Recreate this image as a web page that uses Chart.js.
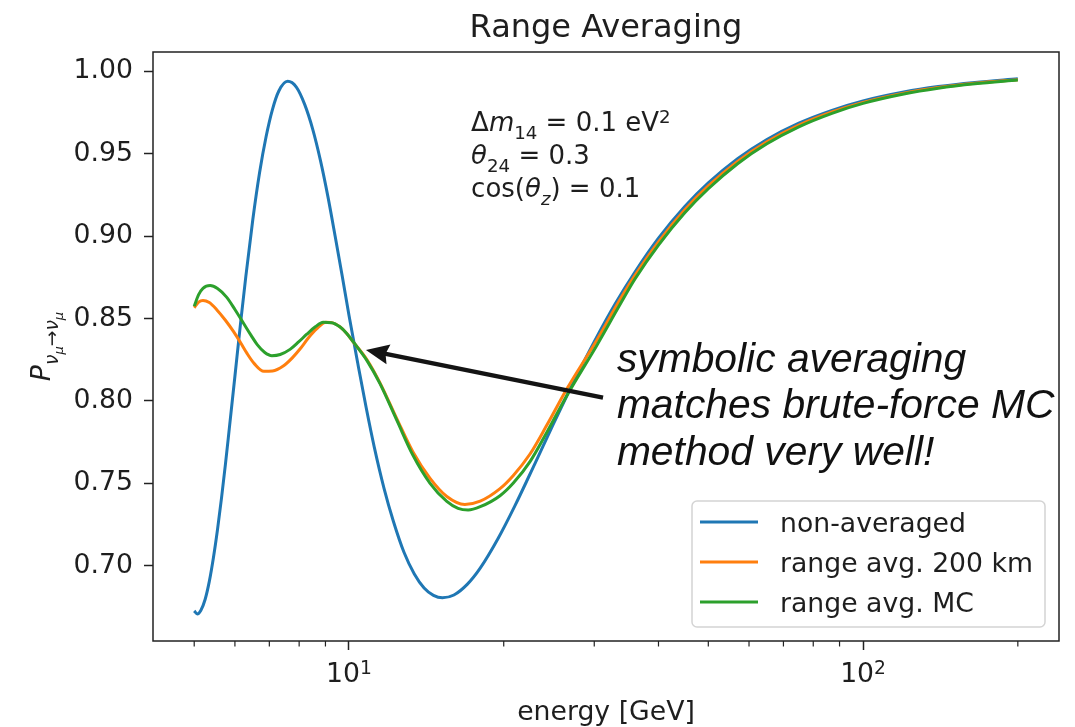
<!DOCTYPE html>
<html>
<head>
<meta charset="utf-8">
<script src="https://cdn.jsdelivr.net/npm/chart.js@4/dist/chart.umd.min.js"></script>
<style>
html,body{margin:0;padding:0;background:#fff;}
canvas{display:block;}
</style>
</head>
<body>
<canvas id="c" width="1075" height="727"></canvas>
<script>
// ---------------- data ----------------
const seriesLabels = ['non-averaged', 'range avg. 200 km', 'range avg. MC'];
const seriesColors = ['#1f77b4', '#ff7f0e', '#2ca02c'];

const nonAvgEnergy = [5.00,5.07,5.15,5.25,5.35,5.45,5.55,5.65,5.75,5.85,6.00,6.15,6.30,6.50,6.70,6.90,7.10,7.30,7.60,7.90,8.20,8.50,8.80,9.10,9.40,9.70,10.0,10.4,10.8,11.2,11.7,12.2,12.8,13.4,14.0,14.6,15.2,16.0,17.0,18.0,19.5,21.0,23.0,25.0,27.5,30.0,33.0,36.0,40.0,45.0,50.0,57.0,65.0,75.0,87.0,100,120,140,165,200];
const nonAvgProb   = [0.6726,0.6707,0.6728,0.6795,0.6905,0.7050,0.7220,0.7410,0.7615,0.7830,0.8150,0.8465,0.8755,0.9100,0.9385,0.9605,0.9770,0.9880,0.9940,0.9905,0.9800,0.9650,0.9460,0.9240,0.9000,0.8760,0.8520,0.8230,0.7960,0.7720,0.7470,0.7270,0.7080,0.6950,0.6865,0.6820,0.6805,0.6822,0.6888,0.6985,0.7165,0.7360,0.7620,0.7862,0.8130,0.8360,0.8593,0.8783,0.8988,0.9180,0.9323,0.9470,0.9587,0.9686,0.9764,0.9821,0.9875,0.9908,0.9933,0.9955];

const avg200Energy = [5.00,5.10,5.20,5.35,5.53,5.75,5.96,6.15,6.33,6.55,6.83,7.10,7.45,7.75,8.03,8.35,8.65,9.02,9.30,9.60,9.90,10.18,10.84,11.49,12.4,13.32,14.38,15.5,16.8,18.0,19.67,20.88,22.5,24.28,26.56,30.38,33.67,36,40,45,50,57,65,75,87,100,120,140,165,200];
const avg200Prob   = [0.8566,0.8600,0.8610,0.8597,0.8554,0.8490,0.8422,0.8355,0.8290,0.8225,0.8180,0.8182,0.8212,0.8260,0.8315,0.8385,0.8437,0.8478,0.8474,0.8450,0.8410,0.8360,0.8250,0.8110,0.7890,0.7690,0.7530,0.7420,0.7372,0.7392,0.7468,0.7548,0.7678,0.7855,0.8075,0.8372,0.8615,0.8762,0.8966,0.9160,0.9305,0.9454,0.9573,0.9674,0.9754,0.9812,0.9868,0.9902,0.9928,0.9950];

const avgMcEnergy = [5.00,5.10,5.20,5.37,5.55,5.78,6.00,6.24,6.45,6.63,6.85,7.08,7.35,7.68,7.98,8.28,8.60,8.91,9.25,9.60,9.90,10.2,10.84,11.49,12.4,13.32,14.38,15.5,16.3,17.05,18.0,19.67,20.88,22.5,24.28,26.56,30.38,33.67,36,40,45,50,57,65,75,87,100,120,140,165,200];
const avgMcProb   = [0.8575,0.8645,0.8683,0.8700,0.8682,0.8630,0.8555,0.8470,0.8398,0.8342,0.8296,0.8275,0.8282,0.8313,0.8358,0.8405,0.8450,0.8477,0.8475,0.8450,0.8410,0.8358,0.8245,0.8105,0.7880,0.7670,0.7500,0.7390,0.7348,0.7338,0.7358,0.7425,0.7502,0.7632,0.7812,0.8035,0.8340,0.8585,0.8740,0.8946,0.9142,0.9288,0.9440,0.9561,0.9664,0.9746,0.9806,0.9863,0.9898,0.9925,0.9948];

const yTickValues = [0.70,0.75,0.80,0.85,0.90,0.95,1.00];
const xMajorTicks = [10, 100];
const xMajorBase = ['10', '10'];
const xMajorExp = ['1', '2'];
const xMinorTicks = [5,6,7,8,9,20,30,40,50,60,70,80,90,200];

const paramLines = [
  [{t:'\u0394'},{t:'m',it:1},{t:'14',sub:1},{t:' = 0.1 eV'},{t:'2',sup:1}],
  [{t:'\u03B8',it:1},{t:'24',sub:1},{t:' = 0.3'}],
  [{t:'cos('},{t:'\u03B8',it:1},{t:'z',it:1,sub:1},{t:') = 0.1'}]
];
const noteLines = ['symbolic averaging', 'matches brute-force MC', 'method very well!'];
const arrowTip = [10.79, 0.831];
const arrowTail = [31.2, 0.802];
const noteAnchor = [33.2, 0.8178];
const paramAnchor = [17.28, 0.9636];

// ---------------- helpers ----------------
const FONT = '"DejaVu Sans", sans-serif';
const TXT = '#1e1e1e';
const BASE = 26.7;
const PBASE = 26;

function richWidth(ctx, segs, size) {
  let w = 0;
  for (const s of segs) {
    const sz = (s.sub || s.sup) ? size * 0.7 : (s.ss ? size * 0.49 : size);
    ctx.font = (s.it ? 'italic ' : '') + sz + 'px ' + FONT;
    w += ctx.measureText(s.t).width;
  }
  return w;
}
function drawRich(ctx, x, y, segs, size) {
  let cx = x;
  for (const s of segs) {
    let sz = size, dy = 0;
    if (s.sub) { sz = size * 0.7; dy = size * 0.31; }
    if (s.sup) { sz = size * 0.7; dy = -size * 0.31; }
    if (s.ss)  { sz = size * 0.49; dy = size * 0.47; }
    ctx.font = (s.it ? 'italic ' : '') + sz + 'px ' + FONT;
    ctx.fillText(s.t, cx, y + dy);
    cx += ctx.measureText(s.t).width;
  }
}

const decor = {
  id: 'decor',
  afterDatasetsDraw(chart) {
    const {ctx, chartArea: a, scales: {x, y}} = chart;
    ctx.save();
    // spines
    ctx.strokeStyle = '#222';
    ctx.lineWidth = 1.5;
    ctx.strokeRect(a.left, a.top, a.right - a.left, a.bottom - a.top);
    // minor x ticks
    ctx.lineWidth = 1.2;
    for (const v of xMinorTicks) {
      const px = x.getPixelForValue(v);
      ctx.beginPath(); ctx.moveTo(px, a.bottom); ctx.lineTo(px, a.bottom + 5.5); ctx.stroke();
    }
    ctx.fillStyle = TXT;
    ctx.textBaseline = 'alphabetic';
    // x major tick labels (10^n)
    xMajorTicks.forEach((v, i) => {
      const segs = [{t: xMajorBase[i]}, {t: xMajorExp[i], sup: 1}];
      const w = richWidth(ctx, segs, BASE);
      drawRich(ctx, x.getPixelForValue(v) - w / 2, a.bottom + 41, segs, BASE);
    });
    // title
    ctx.font = '32px ' + FONT;
    ctx.textAlign = 'center';
    ctx.fillText('Range Averaging', (a.left + a.right) / 2, a.top - 15.5);
    // x label
    ctx.font = BASE + 'px ' + FONT;
    ctx.fillText('energy [GeV]', (a.left + a.right) / 2, 720);
    ctx.textAlign = 'left';
    // y label (rotated)
    const ySegs = [{t:'P',it:1},{t:'\u03BD',it:1,sub:1},{t:'\u03BC',it:1,ss:1},{t:'\u2192',sub:1},{t:'\u03BD',it:1,sub:1},{t:'\u03BC',it:1,ss:1}];
    ctx.save();
    ctx.translate(50, (a.top + a.bottom) / 2);
    ctx.rotate(-Math.PI / 2);
    const yw = richWidth(ctx, ySegs, BASE);
    drawRich(ctx, -yw / 2, 0, ySegs, BASE);
    ctx.restore();
    // parameter text
    const px0 = x.getPixelForValue(paramAnchor[0]);
    const py0 = y.getPixelForValue(paramAnchor[1]);
    paramLines.forEach((segs, i) => drawRich(ctx, px0, py0 + i * 33, segs, PBASE));
    // legend
    const lw = 353, lh = 126;
    const lx = a.right - 14 - lw, ly = a.bottom - 14 - lh;
    ctx.beginPath();
    ctx.roundRect(lx, ly, lw, lh, 5);
    ctx.fillStyle = 'rgba(255,255,255,0.8)';
    ctx.fill();
    ctx.strokeStyle = '#d4d4d4';
    ctx.lineWidth = 1.5;
    ctx.stroke();
    chart.data.datasets.forEach((ds, i) => {
      const ry = ly + 21 + i * 40;
      ctx.strokeStyle = ds.borderColor;
      ctx.lineWidth = 3;
      ctx.beginPath(); ctx.moveTo(lx + 8, ry); ctx.lineTo(lx + 66, ry); ctx.stroke();
      ctx.fillStyle = TXT;
      ctx.font = BASE + 'px ' + FONT;
      ctx.fillText(ds.label, lx + 88, ry + 9.5);
    });
    // annotation arrow
    const tx = x.getPixelForValue(arrowTip[0]), ty = y.getPixelForValue(arrowTip[1]);
    const sx = x.getPixelForValue(arrowTail[0]), sy = y.getPixelForValue(arrowTail[1]);
    const ang = Math.atan2(ty - sy, tx - sx);
    const hl = 23, hw = 10;
    const bx = tx - hl * Math.cos(ang), by = ty - hl * Math.sin(ang);
    ctx.strokeStyle = '#141414';
    ctx.fillStyle = '#141414';
    ctx.lineWidth = 4.5;
    ctx.beginPath(); ctx.moveTo(sx, sy); ctx.lineTo(bx + 4 * Math.cos(ang), by + 4 * Math.sin(ang)); ctx.stroke();
    ctx.beginPath();
    ctx.moveTo(tx, ty);
    ctx.lineTo(bx - hw * Math.sin(ang), by + hw * Math.cos(ang));
    ctx.lineTo(bx + 3 * Math.cos(ang), by + 3 * Math.sin(ang));
    ctx.lineTo(bx + hw * Math.sin(ang), by - hw * Math.cos(ang));
    ctx.closePath();
    ctx.fill();
    // annotation text
    const nx = x.getPixelForValue(noteAnchor[0]), ny = y.getPixelForValue(noteAnchor[1]);
    ctx.fillStyle = '#111';
    ctx.font = 'italic 40.8px "Liberation Sans", Arial, sans-serif';
    noteLines.forEach((t, i) => ctx.fillText(t, nx, ny + i * 46.5));
    ctx.restore();
  }
};

const energies = [nonAvgEnergy, avg200Energy, avgMcEnergy];
const probs = [nonAvgProb, avg200Prob, avgMcProb];

const datasets = seriesLabels.map((lab, i) => ({
  label: lab,
  data: energies[i].map((e, j) => ({x: e, y: probs[i][j]})),
  borderColor: seriesColors[i],
  backgroundColor: seriesColors[i],
  borderWidth: 3,
  pointRadius: 0,
  fill: false,
  cubicInterpolationMode: 'monotone',
  order: 2 - i
}));

new Chart(document.getElementById('c'), {
  type: 'line',
  data: {datasets},
  plugins: [decor],
  options: {
    responsive: false,
    animation: false,
    events: [],
    layout: {padding: {top: 52, right: 16, left: 0, bottom: 0}},
    plugins: {legend: {display: false}, tooltip: {enabled: false}, title: {display: false}},
    scales: {
      x: {
        type: 'logarithmic',
        min: 4.1573, max: 240.5,
        afterBuildTicks: s => { s.ticks = xMajorTicks.map(v => ({value: v})); },
        afterFit: s => { s.height = 86; },
        ticks: {
          display: false, autoSkip: false, maxRotation: 0, minRotation: 0
        },
        grid: {display: true, drawOnChartArea: false, drawTicks: true, tickLength: 9, tickWidth: 1.5, tickColor: '#222'},
        border: {display: false}
      },
      y: {
        type: 'linear',
        min: 0.6543, max: 1.0118,
        afterBuildTicks: s => { s.ticks = yTickValues.map(v => ({value: v})); },
        afterFit: s => { s.width = 153; },
        ticks: {
          padding: 11, color: TXT, font: {family: 'DejaVu Sans', size: BASE},
          callback: v => Number(v).toFixed(2)
        },
        grid: {display: true, drawOnChartArea: false, drawTicks: true, tickLength: 9, tickWidth: 1.5, tickColor: '#222'},
        border: {display: false}
      }
    }
  }
});
</script>
</body>
</html>
